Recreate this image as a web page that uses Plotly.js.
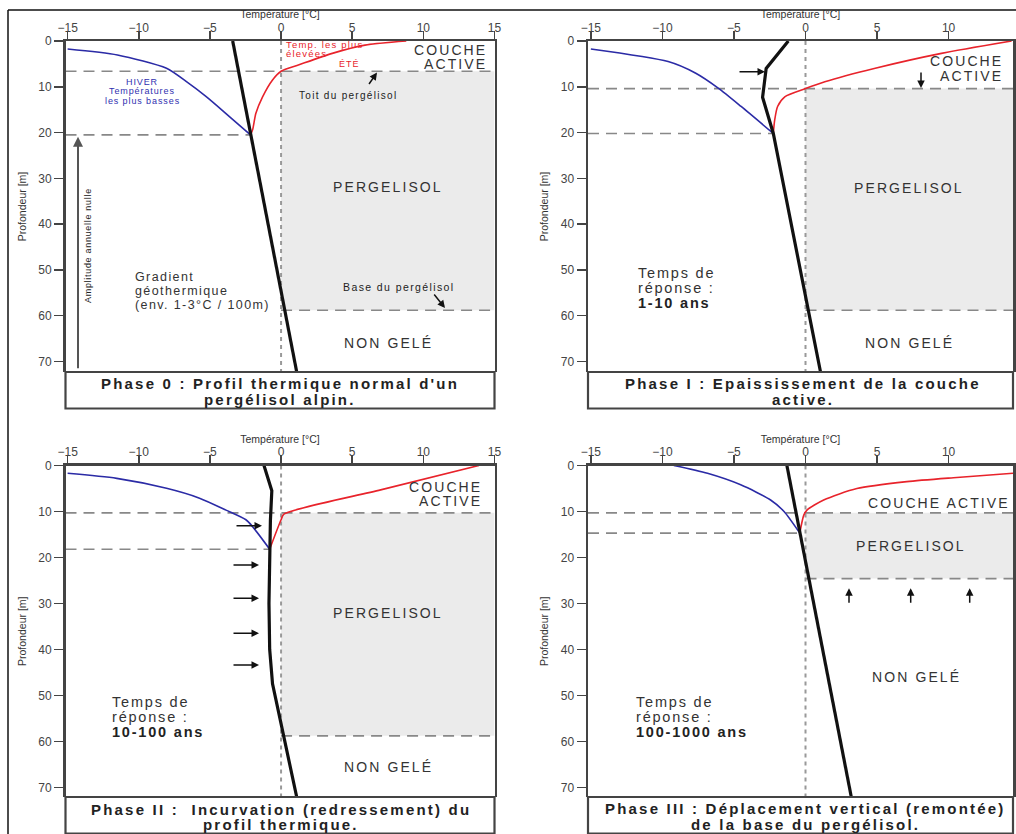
<!DOCTYPE html>
<html>
<head>
<meta charset="utf-8">
<script src="https://cdn.plot.ly/plotly-3.0.1.min.js"></script>
<style>html,body{margin:0;padding:0;background:#fff;}#chart{width:1016px;height:834px;}</style>
</head>
<body>
<div id="chart"></div>
<script>
// ---------- DATA ----------
const tempTicks  = [-15, -10, -5, 0, 5, 10, 15];
const depthTicks = [0, 10, 20, 30, 40, 50, 60, 70];

// Phase 0 : profil normal
const p0MeanT   = [-3.4, 1.1];
const p0MeanZ   = [0, 72.3];
const p0WinterT = [-15.0, -11.5, -8.05, -6.65, -5.26, -3.63, -2.15];
const p0WinterZ = [1.75, 3.05, 5.96, 8.88, 12.15, 16.5, 20.5];
const p0SummerT = [8.8, 5.9, 3.6, 1.26, 0.0, -0.6, -1.3, -1.77, -2.0, -2.15];
const p0SummerZ = [0, 0.9, 2.7, 5.2, 6.6, 8.5, 12.2, 15.8, 19.4, 20.5];

// Phase I : épaississement de la couche active
const p1MeanT   = [-1.2, -2.75, -3.0, -2.25, 1.05];
const p1MeanZ   = [0, 6.0, 12.3, 20.2, 72.3];
const p1WinterT = [-15.0, -9.6, -7.7, -6.1, -4.5, -2.25];
const p1WinterZ = [1.75, 4.5, 7.0, 10.3, 14.3, 20.2];
const p1SummerT = [14.4, 9.5, 4.8, 1.35, 0.0, -1.45, -1.95, -2.15, -2.25];
const p1SummerZ = [0, 2.7, 6.0, 8.9, 10.4, 12.2, 14.3, 17.2, 20.2];

// Phase II : incurvation du profil
const p2MeanT   = [-1.2, -0.65, -0.75, -0.8, -0.85, -0.8, -0.6, 1.1];
const p2MeanZ   = [0, 5.5, 12, 20, 30, 40, 47.5, 72.1];
const p2WinterT = [-15.0, -11.55, -8.05, -5.73, -3.87, -2.47, -2.0, -0.8];
const p2WinterZ = [1.7, 2.8, 4.96, 7.1, 9.7, 11.8, 13.3, 18.2];
const p2SummerT = [13.9, 7.0, 0.2, 0.0, -0.8];
const p2SummerZ = [0, 5.3, 10.6, 11.8, 18.2];

// Phase III : remontée de la base
const p3MeanT   = [-1.3, 3.2];
const p3MeanZ   = [0, 72.1];
const p3WinterT = [-9.2, -6.85, -4.53, -2.44, -1.5, -0.4];
const p3WinterZ = [0, 1.7, 4.2, 7.5, 10.0, 14.7];
const p3SummerT = [14.5, 10.57, 7.08, 3.59, 1.27, 0.1, -0.12, -0.4];
const p3SummerZ = [1.7, 2.6, 3.5, 5.0, 7.5, 9.7, 10.8, 14.7];

// niveaux (profondeurs en m) par phase : toit, amplitude nulle, base
const permTop  = [6.6, 10.4, 10.3, 10.3];
const zaaDepth = [20.5, 20.2, 18.2, 14.7];
const zaaTemp  = [-2.15, -2.25, -0.8, -0.4];
const permBase = [58.8, 58.8, 58.8, 24.6];

// ---------- LAYOUT HELPERS ----------
const W = 1016, H = 834;
const X = p => p / W;
const Y = p => 1 - p / H;
const F = 'Liberation Sans, Arial, sans-serif';
const ls = (s, n) => `<span style="letter-spacing:${n}px">${s}</span>`;

const xRangeL = [-15.15, 15.0];
const xRangeR = [-15.2, 14.5];
const panels = [
  {xa:'x',  ya:'y',  xd:[65.5, 494.5], yd:[41, 372],    xr:xRangeL, yr:[72.3, 0]},
  {xa:'x2', ya:'y2', xd:[588, 1013],   yd:[41, 372],    xr:xRangeR, yr:[72.3, 0]},
  {xa:'x3', ya:'y3', xd:[65.5, 494.5], yd:[465.5, 797], xr:xRangeL, yr:[72.1, 0]},
  {xa:'x4', ya:'y4', xd:[588, 1013],   yd:[465.5, 797], xr:xRangeR, yr:[72.1, 0]}
];

const series = [
  [p0MeanT, p0MeanZ, p0WinterT, p0WinterZ, p0SummerT, p0SummerZ],
  [p1MeanT, p1MeanZ, p1WinterT, p1WinterZ, p1SummerT, p1SummerZ],
  [p2MeanT, p2MeanZ, p2WinterT, p2WinterZ, p2SummerT, p2SummerZ],
  [p3MeanT, p3MeanZ, p3WinterT, p3WinterZ, p3SummerT, p3SummerZ]
];

const traces = [];
series.forEach((s, i) => {
  const p = panels[i];
  traces.push({x:s[2], y:s[3], xaxis:p.xa, yaxis:p.ya, mode:'lines', type:'scatter',
    line:{color:'#2b2ba6', width:1.6, shape:'spline', smoothing:0.7}, hoverinfo:'skip'});
  traces.push({x:s[4], y:s[5], xaxis:p.xa, yaxis:p.ya, mode:'lines', type:'scatter',
    line:{color:'#e8232b', width:1.6, shape:'spline', smoothing:0.7}, hoverinfo:'skip'});
  traces.push({x:s[0], y:s[1], xaxis:p.xa, yaxis:p.ya, mode:'lines', type:'scatter',
    line:{color:'#111', width:3.2}, hoverinfo:'skip'});
});

const layout = {
  width: W, height: H, margin:{l:0, r:0, t:0, b:0},
  paper_bgcolor:'#fff', plot_bgcolor:'#fff', showlegend:false,
  font:{family:F, color:'#333'}, shapes:[], annotations:[]
};

panels.forEach((p, i) => {
  const n = i === 0 ? '' : String(i + 1);
  layout['xaxis' + n] = {
    domain:[X(p.xd[0]), X(p.xd[1])], range:p.xr, side:'top', anchor:p.ya,
    tickvals:tempTicks, ticks:'outside', ticklen:8, tickwidth:1.5, tickcolor:'#444',
    ticklabelstandoff:-6,
    showline:true, linecolor:'#444', linewidth:2.5, showgrid:false, zeroline:false,
    tickfont:{family:F, size:12, color:'#444'}, fixedrange:true,
    title:{text:'Température [°C]', font:{family:F, size:10.5, color:'#333'}, standoff:0}
  };
  layout['yaxis' + n] = {
    domain:[Y(p.yd[1]), Y(p.yd[0])], range:p.yr, anchor:p.xa,
    tickvals:depthTicks, ticks:'outside', ticklen:9, tickwidth:1.5, tickcolor:'#444',
    showline:true, mirror:true, linecolor:'#444', linewidth:2.5, showgrid:false, zeroline:false,
    tickfont:{family:F, size:12, color:'#444'}, fixedrange:true,
    title:{text:'Profondeur [m]', font:{family:F, size:10.5, color:'#333'}, standoff:10}
  };
  const xr = p.xa, yr = p.ya;
  // pergélisol (zone grisée)
  layout.shapes.push({type:'rect', xref:xr, yref:yr, x0:0, x1:p.xr[1], y0:permTop[i], y1:permBase[i],
    fillcolor:'#ebebeb', line:{width:0}, layer:'below'});
  // toit du pergélisol
  layout.shapes.push({type:'line', xref:xr, yref:yr, x0:p.xr[0], x1:p.xr[1], y0:permTop[i], y1:permTop[i],
    line:{color:'#888', width:1.6, dash:'11px,7px'}, layer:'below'});
  // profondeur d'amplitude nulle
  layout.shapes.push({type:'line', xref:xr, yref:yr, x0:p.xr[0], x1:zaaTemp[i], y0:zaaDepth[i], y1:zaaDepth[i],
    line:{color:'#888', width:1.6, dash:'11px,7px'}, layer:'below'});
  // base du pergélisol
  layout.shapes.push({type:'line', xref:xr, yref:yr, x0:0, x1:p.xr[1], y0:permBase[i], y1:permBase[i],
    line:{color:'#888', width:1.6, dash:'11px,7px'}, layer:'below'});
  // isotherme 0 °C
  layout.shapes.push({type:'line', xref:xr, yref:yr, x0:0, x1:0, y0:0, y1:p.yr[0],
    line:{color:'#999', width:2, dash:'4px,4px'}, layer:'below'});
  // cadre de légende
  layout.shapes.push({type:'rect', xref:'paper', yref:'paper', x0:X(p.xd[0]), x1:X(p.xd[1]),
    y0:Y(p.yd[1] + 36.5), y1:Y(p.yd[1]), fillcolor:'#fff', line:{color:'#444', width:2.2}});
});
// cadre extérieur
layout.shapes.push({type:'line', xref:'paper', yref:'paper', x0:X(8), x1:X(8), y0:0, y1:Y(10), line:{color:'#111', width:1.5}});
layout.shapes.push({type:'line', xref:'paper', yref:'paper', x0:X(8), x1:1, y0:Y(10), y1:Y(10), line:{color:'#111', width:1.5}});

// ---------- TEXT ----------
function T(text, px, py, o) {
  o = o || {};
  return {xref:'paper', yref:'paper', x:X(px), y:Y(py), text:text, showarrow:false,
    xanchor:o.xa || 'center', yanchor:'middle', textangle:o.rot || 0,
    font:{family:F, size:o.size || 14, color:o.color || '#333'}};
}
function A(px, py, ax, ay) {
  return {xref:'paper', yref:'paper', x:X(px), y:Y(py), ax:ax, ay:ay, text:'', showarrow:true,
    arrowhead:2, arrowsize:1, arrowwidth:1.5, arrowcolor:'#111', standoff:0};
}
const big = s => ls(s, 2.1);
const cap = s => '<b>' + ls(s, 2.2) + '</b>';
const rep = s => ls(s, 1.8);
const blue = '#3030b0', red = '#e8232b';
const capStyle = {size:15, color:'#222'};

const ann = [
  // Phase 0
  T(ls('HIVER', 0.9), 142, 82, {size:9, color:blue}),
  T(ls('Températures', 0.9), 142, 91, {size:9, color:blue}),
  T(ls('les plus basses', 0.9), 142, 100.5, {size:9, color:blue}),
  T(ls('Temp. les plus', 1.2), 284, 44, {xa:'left', size:9.5, color:red}),
  T(ls('élevées', 1.2), 284, 53, {xa:'left', size:9.5, color:red}),
  T(ls('ÉTÉ', 1), 349, 64, {size:9, color:red}),
  T(big('COUCHE'), 489, 50, {xa:'right'}),
  T(big('ACTIVE'), 489, 64.5, {xa:'right'}),
  T(ls('Toit du pergélisol', 1.3), 297, 96, {xa:'left', size:10, color:'#222'}),
  A(377, 72.5, -9, 13),
  T(big('PERGELISOL'), 388, 187),
  T(ls('Amplitude annuelle nulle', 0.7), 88, 246, {rot:-90, size:9, color:'#222'}),
  T(ls('Gradient', 1.4), 133, 277, {xa:'left', size:12.5}),
  T(ls('géothermique', 1.4), 133, 291, {xa:'left', size:12.5}),
  T(ls('(env. 1-3°C / 100m)', 1.4), 133, 305, {xa:'left', size:12.5}),
  T(ls('Base du pergélisol', 1.4), 399, 287, {size:10.5, color:'#222'}),
  A(445, 308, -12, -15),
  T(big('NON GELÉ'), 388, 343),
  T(cap("Phase 0 : Profil thermique normal d'un"), 280, 383, capStyle),
  T(cap('pergélisol alpin.'), 280, 399, capStyle),
  // Phase I
  A(765, 71.7, -27, 0),
  T(big('COUCHE'), 1005, 61, {xa:'right'}),
  T(big('ACTIVE'), 1005, 75.5, {xa:'right'}),
  A(921, 88, 0, -17),
  T(big('PERGELISOL'), 909, 188),
  T(rep('Temps de'), 636, 272.7, {xa:'left', size:14.5}),
  T(rep('réponse :'), 636, 288.3, {xa:'left', size:14.5}),
  T('<b>' + rep('1-10 ans') + '</b>', 636, 303.3, {xa:'left', size:14.5, color:'#222'}),
  T(big('NON GELÉ'), 909, 342.7),
  T(cap('Phase I : Epaississement de la couche'), 803, 383, capStyle),
  T(cap('active.'), 803, 399, capStyle),
  // Phase II
  T(big('COUCHE'), 484, 486.7, {xa:'right'}),
  T(big('ACTIVE'), 484, 500.5, {xa:'right'}),
  A(262, 525.7, -27, 0),
  A(259, 565, -27, 0),
  A(259, 598.3, -27, 0),
  A(259, 633.3, -27, 0),
  A(259, 665, -27, 0),
  T(big('PERGELISOL'), 388, 613.3),
  T(rep('Temps de'), 110, 701.7, {xa:'left', size:14.5}),
  T(rep('réponse :'), 110, 717.3, {xa:'left', size:14.5}),
  T('<b>' + rep('10-100 ans') + '</b>', 110, 732.3, {xa:'left', size:14.5, color:'#222'}),
  T(big('NON GELÉ'), 388, 766.7),
  T(cap('Phase II :  Incurvation (redressement) du'), 280.5, 809, capStyle),
  T(cap('profil thermique.'), 280.5, 824, capStyle),
  // Phase III
  T(big('COUCHE ACTIVE'), 938.7, 502.7),
  T(big('PERGELISOL'), 911, 546),
  A(849, 588.3, 0, 16),
  A(910.7, 588.3, 0, 16),
  A(969.7, 588.3, 0, 16),
  T(big('NON GELÉ'), 916, 677.3),
  T(rep('Temps de'), 634, 701.7, {xa:'left', size:14.5}),
  T(rep('réponse :'), 634, 717.3, {xa:'left', size:14.5}),
  T('<b>' + rep('100-1000 ans') + '</b>', 634, 732.3, {xa:'left', size:14.5, color:'#222'}),
  T(cap('Phase III : Déplacement vertical (remontée)'), 805, 808.5, capStyle),
  T(cap('de la base du pergélisol.'), 805, 824, capStyle)
];
// flèche "amplitude annuelle nulle" (pointe sur la profondeur d'amplitude nulle)
ann.push({xref:'paper', yref:'y', x:X(78), y:zaaDepth[0] + 0.4, ax:0, ay:233, text:'', showarrow:true,
  arrowhead:2, arrowsize:1, arrowwidth:2, arrowcolor:'#555', standoff:0});
layout.annotations = ann;

Plotly.newPlot('chart', traces, layout, {displayModeBar:false, staticPlot:true});
</script>
</body>
</html>
